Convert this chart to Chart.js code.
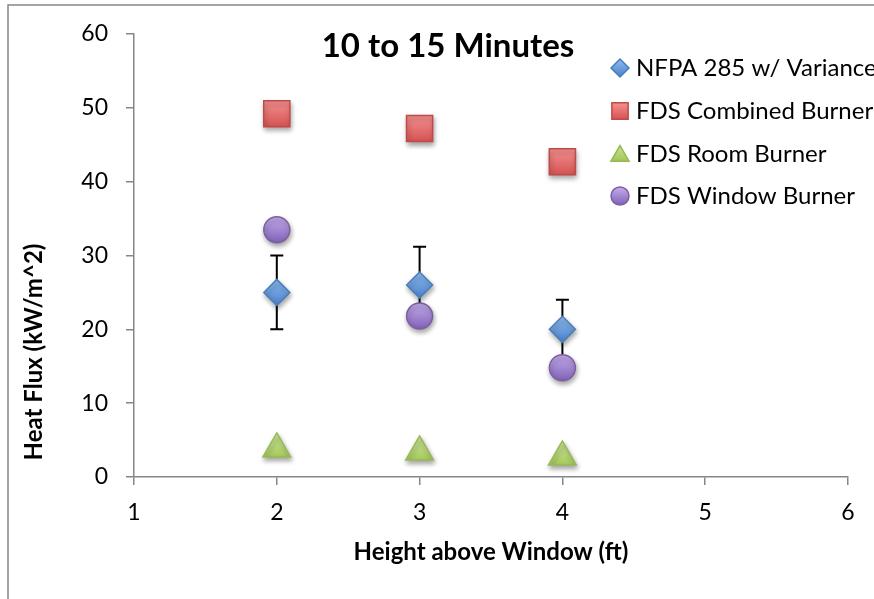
<!DOCTYPE html>
<html>
<head>
<meta charset="utf-8">
<script src="https://cdn.jsdelivr.net/npm/chart.js@4.4.1/dist/chart.umd.min.js"></script>
<style>
    html, body { margin: 0; padding: 0; background: #fff; }
    #wrap { position: relative; width: 874px; height: 599px; }
</style>
</head>
<body>
<div id="wrap"><canvas id="fluxChart" width="874" height="599"></canvas></div>
<script>
// Heat flux vs height above window, 10 to 15 minutes
const heights = [2, 3, 4];
const nfpaValues = [25, 26, 20];
const nfpaErrors = [5, 5.2, 4];
const combinedValues = [49.2, 47.2, 42.7];
const roomValues = [3.8, 3.4, 2.7];
const windowValues = [33.5, 21.8, 14.8];
const xTicks = [1, 2, 3, 4, 5, 6];
const yTicks = [0, 10, 20, 30, 40, 50, 60];

const FONT = 'Lato, "Open Sans", sans-serif';
const AXIS_GREY = '#868686';

// vertical gradient per point, light on top, darker below
function pointGradient(top, bottom, r) {
    return (c) => {
        const chart = c.chart;
        const sy = chart.scales && chart.scales.y;
        if (!c.parsed || !sy || !chart.ctx) return bottom;
        const py = sy.getPixelForValue(c.parsed.y);
        if (!Number.isFinite(py)) return bottom;
        const g = chart.ctx.createLinearGradient(0, py - r, 0, py + r);
        g.addColorStop(0, top);
        g.addColorStop(1, bottom);
        return g;
    };
}

const series = [
    { label: 'NFPA 285 w/ Variance', data: nfpaValues, style: 'rectRot', radius: 13, top: '#8fbdf0', bottom: '#4a80cc', border: '#4a7ebb', legendR: 9 },
    { label: 'FDS Combined Burner', data: combinedValues, style: 'rect', radius: 18.5, top: '#fa9d9d', bottom: '#d04646', border: '#be4b48', legendR: 11.5 },
    { label: 'FDS Room Burner', data: roomValues, style: 'triangle', radius: 16, top: '#cfe89c', bottom: '#98c048', border: '#98b954', legendR: 10.5 },
    { label: 'FDS Window Burner', data: windowValues, style: 'circle', radius: 13, top: '#c4acec', bottom: '#8062b8', border: '#7d60a0', legendR: 9 }
];

const datasets = series.map(s => ({
    label: s.label,
    data: s.data.map((v, i) => ({ x: heights[i], y: v })),
    pointStyle: s.style,
    pointRadius: s.radius,
    pointHoverRadius: s.radius,
    pointBackgroundColor: pointGradient(s.top, s.bottom, s.radius),
    pointBorderColor: s.border,
    pointBorderWidth: 1.5,
    showLine: false
}));

// error bars, frame, title, y title and legend
const decorPlugin = {
    id: 'decor',
    beforeDatasetsDraw(chart) {
        const ctx = chart.ctx;
        const sx = chart.scales.x, sy = chart.scales.y;
        ctx.save();
        ctx.strokeStyle = '#000';
        ctx.lineWidth = 2;
        heights.forEach((h, i) => {
            const px = sx.getPixelForValue(h);
            const hi = sy.getPixelForValue(nfpaValues[i] + nfpaErrors[i]);
            const lo = sy.getPixelForValue(nfpaValues[i] - nfpaErrors[i]);
            ctx.beginPath();
            ctx.moveTo(px, hi); ctx.lineTo(px, lo);
            ctx.moveTo(px - 6.5, hi); ctx.lineTo(px + 6.5, hi);
            ctx.moveTo(px - 6.5, lo); ctx.lineTo(px + 6.5, lo);
            ctx.stroke();
        });
        ctx.restore();
        // marker shadows
        ctx.save();
        ctx.shadowColor = 'rgba(0,0,0,0.35)';
        ctx.shadowBlur = 5;
        ctx.shadowOffsetX = 1;
        ctx.shadowOffsetY = 3;
    },
    afterDatasetsDraw(chart) {
        chart.ctx.restore();
    },
    afterDraw(chart) {
        const ctx = chart.ctx;
        ctx.save();
        // outer frame (right and bottom edges are off-canvas)
        ctx.strokeStyle = AXIS_GREY;
        ctx.lineWidth = 1.5;
        ctx.beginPath();
        ctx.moveTo(8, 599); ctx.lineTo(8, 5); ctx.lineTo(874, 5);
        ctx.stroke();

        ctx.fillStyle = '#000';
        ctx.textBaseline = 'middle';
        ctx.textAlign = 'center';
        ctx.font = 'bold 33px ' + FONT;
        ctx.fillText('10 to 15 Minutes', 448, 46);

        ctx.save();
        ctx.translate(34, 352);
        ctx.rotate(-Math.PI / 2);
        ctx.font = 'bold 24px ' + FONT;
        ctx.fillText('Heat Flux (kW/m^2)', 0, 0);
        ctx.restore();

        // legend
        const rows = [68, 111, 154, 196];
        ctx.textAlign = 'left';
        ctx.font = '24px ' + FONT;
        series.forEach((s, i) => {
            const y = rows[i];
            const g = ctx.createLinearGradient(0, y - s.legendR, 0, y + s.legendR);
            g.addColorStop(0, s.top);
            g.addColorStop(1, s.bottom);
            ctx.fillStyle = g;
            ctx.strokeStyle = s.border;
            ctx.lineWidth = 1.5;
            Chart.helpers.drawPoint(ctx, { pointStyle: s.style, radius: s.legendR, borderWidth: 1.5, rotation: 0 }, 620, y + (s.style === 'triangle' ? 2 : 0));
            ctx.fillStyle = '#000';
            ctx.fillText(s.label, 636, y);
        });
        ctx.restore();
    }
};

new Chart(document.getElementById('fluxChart'), {
    type: 'scatter',
    data: { datasets },
    options: {
        responsive: false,
        animation: false,
        events: [],
        layout: { padding: { left: 0, right: 26, top: 34, bottom: 0 } },
        plugins: {
            legend: { display: false },
            tooltip: { enabled: false }
        },
        scales: {
            x: {
                type: 'linear',
                min: 1, max: 6,
                afterBuildTicks: (axis) => { axis.ticks = xTicks.map(v => ({ value: v })); },
                afterFit: (axis) => { axis.height = 122; },
                border: { display: true, color: AXIS_GREY, width: 1.5 },
                grid: { display: true, drawOnChartArea: false, drawTicks: true, tickLength: 8, color: AXIS_GREY, lineWidth: 1.5 },
                ticks: { color: '#000', font: { family: FONT, size: 23 }, padding: 14, maxRotation: 0 },
                title: { display: true, text: 'Height above Window (ft)', color: '#000', font: { family: FONT, size: 24, weight: 'bold' }, padding: { top: 10, bottom: 32 } }
            },
            y: {
                type: 'linear',
                min: 0, max: 60,
                afterBuildTicks: (axis) => { axis.ticks = yTicks.map(v => ({ value: v })); },
                afterFit: (axis) => { axis.width = 134; },
                border: { display: true, color: AXIS_GREY, width: 1.5 },
                grid: { display: true, drawOnChartArea: false, drawTicks: true, tickLength: 8, color: AXIS_GREY, lineWidth: 1.5 },
                ticks: { color: '#000', font: { family: FONT, size: 23 }, padding: 18 }
            }
        }
    },
    plugins: [decorPlugin]
});
</script>
</body>
</html>
